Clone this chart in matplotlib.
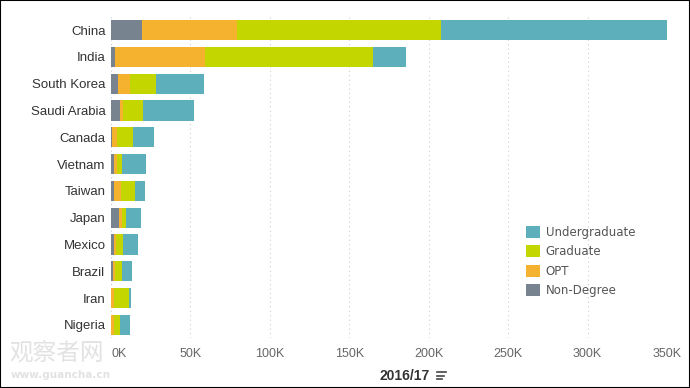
import numpy as np
import matplotlib.pyplot as plt
from matplotlib.lines import Line2D
from matplotlib.patches import Rectangle

# ------------------- data (thousands of students, 2016/17) -------------------
countries = ['China', 'India', 'South Korea', 'Saudi Arabia', 'Canada', 'Vietnam',
             'Taiwan', 'Japan', 'Mexico', 'Brazil', 'Iran', 'Nigeria']
non_degree = [19.7, 2.6, 4.4, 5.7, 0.6, 1.9, 1.9, 5.0, 1.9, 1.3, 0.2, 0.2]
opt = [59.8, 56.8, 7.4, 2.1, 3.4, 1.9, 4.4, 1.9, 1.1, 1.1, 1.5, 1.5]
graduate = [128.5, 105.3, 16.6, 12.4, 9.9, 3.2, 8.8, 2.3, 4.6, 4.6, 9.7, 4.0]
undergraduate = [142.0, 21.3, 30.3, 32.2, 13.3, 15.1, 6.3, 9.7, 9.5, 6.3, 1.3, 6.3]
xticks = [0, 50, 100, 150, 200, 250, 300, 350]
xticklabels = ['0K', '50K', '100K', '150K', '200K', '250K', '300K', '350K']

colors = {'Non-Degree': '#77838F', 'OPT': '#F4B22F',
          'Graduate': '#C4D600', 'Undergraduate': '#5DAFBC'}

fig = plt.figure(figsize=(6.9, 3.88), dpi=100)
ax = fig.add_axes([0.1609, 0.128, 0.8058, 0.829])

y = np.arange(len(countries))
left = np.zeros(len(countries))
series = [('Non-Degree', non_degree), ('OPT', opt),
          ('Graduate', graduate), ('Undergraduate', undergraduate)]
handles = {}
for name, vals in series:
    vals = np.array(vals)
    handles[name] = ax.barh(y, vals, left=left, height=0.75,
                            color=colors[name], label=name, zorder=2)
    left += vals

ax.set_ylim(len(countries) - 0.5, -0.5)
ax.set_xlim(0, 350)
ax.set_yticks(y)
ax.set_yticklabels(countries, fontsize=9.5, color='#333333',
                   family='Liberation Sans')
ax.set_xticks(xticks)
ax.set_xticklabels(xticklabels, fontsize=9, color='#666666',
                   family='Liberation Sans')
# first label sits to the right of the zero line
ax.get_xticklabels()[0].set_horizontalalignment('left')
ax.get_xticklabels()[0].set_x(1.5)
ax.tick_params(axis='both', length=0)
ax.tick_params(axis='x', pad=7)
ax.tick_params(axis='y', pad=4)
for s in ax.spines.values():
    s.set_visible(False)
ax.grid(axis='x', linestyle=(0, (1, 3)), color='#cccccc', linewidth=0.8, zorder=0)

order = ['Undergraduate', 'Graduate', 'OPT', 'Non-Degree']
ax.legend([handles[k] for k in order], order, loc='lower right',
          bbox_to_anchor=(0.962, 0.095), frameon=False, fontsize=8.5,
          handlelength=1.2, handleheight=1.2, labelcolor='#555555',
          handletextpad=0.5, labelspacing=0.55)

fig.text(0.587, 0.031, '2016/17', fontsize=10, fontweight='bold',
         color='#333333', ha='center', va='center', family='Liberation Sans')
# sort icon next to the axis title
for i, w in enumerate([0.0125, 0.0095, 0.0065]):
    yy = 0.041 - i * 0.0095
    fig.add_artist(Line2D([0.634, 0.634 + w], [yy, yy], color='#444444', lw=1.2))

# watermark
fig.text(0.013, 0.09, '观察者网', fontsize=17, color='#e2e2e2',
         family=['Noto Sans CJK SC', 'DejaVu Sans'], va='center')
fig.text(0.015, 0.033, 'www.guancha.cn', fontsize=7.5, color='#e2e2e2',
         fontweight='bold', va='center')

fig.add_artist(Rectangle((0, 0), 1, 1, transform=fig.transFigure,
                         fill=False, edgecolor='black', linewidth=1.5))

fig.savefig('out.png', dpi=100)
